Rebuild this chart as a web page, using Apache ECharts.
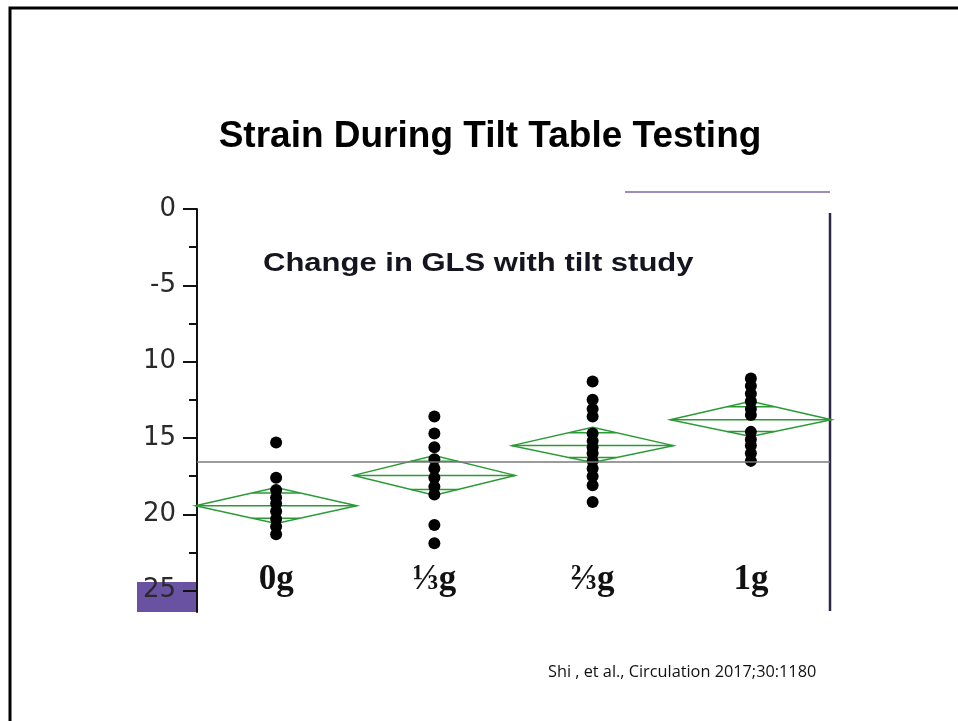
<!DOCTYPE html>
<html>
<head>
<meta charset="utf-8">
<title>Strain During Tilt Table Testing</title>
<script src="https://cdn.jsdelivr.net/npm/echarts@6/dist/echarts.min.js"></script>
<style>
  html, body { margin: 0; padding: 0; background: #ffffff; }
  #chart { width: 958px; height: 721px; }
</style>
</head>
<body>
<div id="chart"></div>
<script>
// Tilt levels and the GLS readings of each subject at that level
const categories = ['0g', '\u2153g', '\u2154g', '1g'];
const gls0g   = [15.3, 17.6, 18.4, 18.9, 19.3, 19.8, 20.3, 20.8, 21.3];
const glsThird = [13.6, 14.7, 15.6, 16.4, 17.0, 17.6, 18.2, 18.7, 20.7, 21.9];
const glsTwoThirds = [11.3, 12.5, 13.1, 13.6, 14.7, 15.2, 15.6, 16.0, 16.5, 17.0, 17.5, 18.1, 19.2];
const gls1g   = [11.1, 11.6, 12.1, 12.6, 13.1, 13.5, 14.6, 15.1, 15.5, 16.0, 16.5];

// Means diamonds: group mean with upper / lower confidence limits
const diamondMean  = [19.44, 17.45, 15.5, 13.8];
const diamondUpper = [18.25, 16.15, 14.3, 12.6];
const diamondLower = [20.6, 18.75, 16.6, 14.9];
const grandMean = 16.56;

// Y axis ticks and their printed labels
const yTickValues = [0, 5, 10, 15, 20, 25];
const yTickLabels = ['0', '-5', '10', '15', '20', '25'];
const yMinorTicks = [2.5, 7.5, 12.5, 17.5, 22.5];
const yMax = 26.4;

const groups = [gls0g, glsThird, glsTwoThirds, gls1g];
const dotData = [];
groups.forEach((vals, i) => vals.forEach(v => dotData.push([i, v])));
const diamondData = categories.map((c, i) => [i, diamondMean[i], diamondUpper[i], diamondLower[i]]);

const GREEN = '#2a9a36';

function renderDiamond(params, api) {
  const i = api.value(0);
  const c = api.coord([i, api.value(1)]);
  const t = api.coord([i, api.value(2)]);
  const b = api.coord([i, api.value(3)]);
  const hw = api.size([1, 0])[0] * 0.51;
  const hUp = c[1] - t[1];
  const hLo = b[1] - c[1];
  const k = 1 / Math.SQRT2;
  const wMark = hw * (1 - k);
  const style = { stroke: GREEN, fill: null, lineWidth: 1.5 };
  return {
    type: 'group',
    children: [
      { type: 'polygon', shape: { points: [[c[0] - hw, c[1]], [t[0], t[1]], [c[0] + hw, c[1]], [b[0], b[1]]] }, style: style },
      { type: 'line', shape: { x1: c[0] - hw, y1: c[1], x2: c[0] + hw, y2: c[1] }, style: style },
      { type: 'line', shape: { x1: c[0] - wMark, y1: c[1] - hUp * k, x2: c[0] + wMark, y2: c[1] - hUp * k }, style: style },
      { type: 'line', shape: { x1: c[0] - wMark, y1: c[1] + hLo * k, x2: c[0] + wMark, y2: c[1] + hLo * k }, style: style }
    ]
  };
}

const chart = echarts.init(document.getElementById('chart'), null, { renderer: 'canvas' });

const option = {
  backgroundColor: '#ffffff',
  animation: false,
  grid: { left: 197, right: 128, top: 209, bottom: 109, containLabel: false, outerBoundsMode: 'none' },
  xAxis: {
    type: 'category',
    data: categories,
    boundaryGap: true,
    position: 'bottom',
    axisLine: { show: false },
    axisTick: { show: false },
    splitLine: { show: false },
    axisLabel: {
      inside: true,
      margin: 15,
      fontFamily: '"Liberation Serif", "DejaVu Serif", serif',
      fontWeight: 'bold',
      fontSize: 35,
      color: '#111111'
    }
  },
  yAxis: [
    {
      type: 'value',
      inverse: true,
      min: 0,
      max: yMax,
      position: 'left',
      axisLine: { show: true, lineStyle: { color: '#111111', width: 2 } },
      axisTick: { show: true, length: 14, customValues: yTickValues, lineStyle: { color: '#111111', width: 2 } },
      axisLabel: {
        customValues: yTickValues,
        margin: 21,
        fontFamily: '"DejaVu Sans", sans-serif',
        fontSize: 26,
        color: '#2a2a2a',
        formatter: v => yTickLabels[yTickValues.indexOf(v)] ?? ''
      },
      splitLine: { show: false }
    },
    {
      type: 'value',
      inverse: true,
      min: 0,
      max: yMax,
      position: 'left',
      axisLine: { show: false },
      axisTick: { show: true, length: 8, customValues: yMinorTicks, lineStyle: { color: '#111111', width: 2 } },
      axisLabel: { show: false },
      splitLine: { show: false }
    }
  ],
  series: [
    {
      type: 'custom',
      name: 'means',
      renderItem: renderDiamond,
      data: diamondData,
      clip: false,
      z: 2
    },
    {
      type: 'scatter',
      name: 'GLS',
      data: dotData,
      symbol: 'circle',
      symbolSize: 12,
      itemStyle: { color: '#000000', opacity: 1 },
      z: 3,
      markLine: {
        silent: true,
        symbol: 'none',
        label: { show: false },
        lineStyle: { color: '#7a7a7a', width: 1.5, type: 'solid', opacity: 1 },
        data: [{ yAxis: grandMean }]
      }
    }
  ],
  graphic: [
    // slide frame
    { type: 'rect', z: -20, shape: { x: 10, y: 8, width: 960, height: 730 }, style: { fill: null, stroke: '#000000', lineWidth: 3 } },
    // purple corner block behind the last tick label
    { type: 'rect', z: -10, shape: { x: 137, y: 582, width: 60, height: 30 }, style: { fill: '#6a52a3' } },
    // right edge rule
    { type: 'line', z: -10, shape: { x1: 830, y1: 213, x2: 830, y2: 611 }, style: { stroke: '#2f2745', lineWidth: 2.5 } },
    // top rule
    { type: 'line', z: -10, shape: { x1: 625, y1: 192, x2: 830, y2: 192 }, style: { stroke: '#7b68a6', lineWidth: 1.5 } },
    {
      type: 'text', x: 490, y: 137,
      style: { text: 'Strain During Tilt Table Testing', textAlign: 'center', textVerticalAlign: 'middle',
               font: 'bold 37px "Liberation Sans", Arial, sans-serif', fill: '#000000' }
    },
    {
      type: 'text', x: 263, y: 264, scaleX: 1.24,
      style: { text: 'Change in GLS with tilt study', textAlign: 'left', textVerticalAlign: 'middle',
               font: 'bold 25px "Liberation Sans", Arial, sans-serif', fill: '#15151f' }
    },
    {
      type: 'text', x: 548, y: 672,
      style: { text: 'Shi , et al., Circulation 2017;30:1180', textAlign: 'left', textVerticalAlign: 'middle',
               font: '16.3px "Open Sans", sans-serif', fill: '#111111' }
    }
  ]
};

chart.setOption(option);
</script>
</body>
</html>
